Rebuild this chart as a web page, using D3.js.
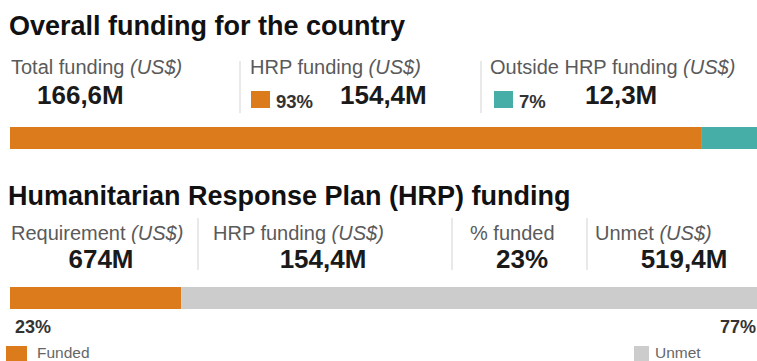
<!DOCTYPE html>
<html>
<head>
<meta charset="utf-8">
<script src="https://cdnjs.cloudflare.com/ajax/libs/d3/7.8.5/d3.min.js"></script>
<style>
  body { margin: 0; background: #fff; }
  text { font-family: "Liberation Sans", Arial, sans-serif; }
</style>
</head>
<body>
<div id="chart"></div>
<script>
// overall funding for the country (US$ millions)
var overallKeys = ["HRP funding", "Outside HRP funding"];
var overallValues = [154.4, 12.3];
var overallPct = ["93%", "7%"];
var overallLabels = ["154,4M", "12,3M"];
var totalLabel = "166,6M";

// HRP funding (US$ millions)
var hrpKeys = ["Funded", "Unmet"];
var hrpValues = [154.4, 519.4];
var hrpPct = ["23%", "77%"];
var hrpStats = ["Requirement", "HRP funding", "% funded", "Unmet"];
var hrpStatValues = ["674M", "154,4M", "23%", "519,4M"];

var width = 757, height = 361;
var colors = {"HRP funding": "#db7b1b", "Outside HRP funding": "#46aea7", "Funded": "#db7b1b", "Unmet": "#cccccc"};

var svg = d3.select("#chart").append("svg")
  .attr("width", width)
  .attr("height", height);

function label(g, x, y, main, italic) {
  var t = g.append("text")
    .attr("x", x).attr("y", y)
    .style("font-size", "20px")
    .style("fill", "#5a5a5a");
  t.append("tspan").text(main);
  if (italic) t.append("tspan").style("font-style", "italic").text(" " + italic);
  return t;
}

function big(g, x, y, txt, anchor) {
  return g.append("text")
    .attr("x", x).attr("y", y)
    .attr("text-anchor", anchor || "start")
    .style("font-size", "26px")
    .style("font-weight", "bold")
    .style("fill", "#1a1a1a")
    .text(txt);
}

function sep(g, x, y1, y2) {
  g.append("line")
    .attr("x1", x).attr("x2", x)
    .attr("y1", y1).attr("y2", y2)
    .style("stroke", "#e2e2e2")
    .style("stroke-width", 1.5);
}

// ---- section 1
var s1 = svg.append("g");
s1.append("text")
  .attr("x", 9).attr("y", 35)
  .style("font-size", "27px").style("font-weight", "bold").style("fill", "#111")
  .text("Overall funding for the country");

label(s1, 11, 74, "Total funding", "(US$)");
big(s1, 37, 104, totalLabel);
sep(s1, 240, 61, 113);
label(s1, 250, 74, "HRP funding", "(US$)");
sep(s1, 481, 61, 113);
label(s1, 490, 74, "Outside HRP funding", "(US$)");

var chipX = [251, 494], pctX = [276, 519], valX = [340, 585];
overallKeys.forEach(function(k, i) {
  s1.append("rect")
    .attr("x", chipX[i]).attr("y", 91)
    .attr("width", 19).attr("height", 17)
    .style("fill", colors[k]);
  s1.append("text")
    .attr("x", pctX[i]).attr("y", 108)
    .style("font-size", "18.5px").style("font-weight", "bold").style("fill", "#333")
    .text(overallPct[i]);
  big(s1, valX[i], 104, overallLabels[i]);
});

var x1 = d3.scaleLinear()
  .domain([0, d3.sum(overallValues)])
  .range([10, 757]);
var stack1 = d3.cumsum(overallValues);
s1.selectAll("rect.bar")
  .data(overallValues)
  .join("rect")
  .attr("class", "bar")
  .attr("x", function(d, i) { return x1(stack1[i] - d); })
  .attr("width", function(d, i) { return x1(stack1[i]) - x1(stack1[i] - d); })
  .attr("y", 127).attr("height", 22)
  .style("fill", function(d, i) { return colors[overallKeys[i]]; });

// ---- section 2
var s2 = svg.append("g");
s2.append("text")
  .attr("x", 8).attr("y", 205)
  .style("font-size", "27px").style("font-weight", "bold").style("fill", "#111")
  .text("Humanitarian Response Plan (HRP) funding");

var statLabelX = [11, 213, 470, 595];
var statValX = [101, 323, 522, 684];
var sepX = [198, 452, 587];
hrpStats.forEach(function(s, i) {
  label(s2, statLabelX[i], 240, s, s == "% funded" ? null : "(US$)");
  big(s2, statValX[i], 268, hrpStatValues[i], "middle");
});
sepX.forEach(function(x) { sep(s2, x, 218, 270); });

var x2 = d3.scaleLinear()
  .domain([0, d3.sum(hrpValues)])
  .range([10, 757]);
var stack2 = d3.cumsum(hrpValues);
s2.selectAll("rect.bar")
  .data(hrpValues)
  .join("rect")
  .attr("class", "bar")
  .attr("x", function(d, i) { return x2(stack2[i] - d); })
  .attr("width", function(d, i) { return x2(stack2[i]) - x2(stack2[i] - d); })
  .attr("y", 287).attr("height", 22)
  .style("fill", function(d, i) { return colors[hrpKeys[i]]; });

// percent labels under the bar
s2.append("text")
  .attr("x", 15).attr("y", 333)
  .style("font-size", "18px").style("font-weight", "bold").style("fill", "#333")
  .text(hrpPct[0]);
s2.append("text")
  .attr("x", 756).attr("y", 333)
  .attr("text-anchor", "end")
  .style("font-size", "18px").style("font-weight", "bold").style("fill", "#333")
  .text(hrpPct[1]);

// legend
var legX = [6, 634], legW = [21, 15], legTx = [37, 655];
hrpKeys.forEach(function(k, i) {
  s2.append("rect")
    .attr("x", legX[i]).attr("y", 346)
    .attr("width", legW[i]).attr("height", 16)
    .style("fill", colors[k]);
  s2.append("text")
    .attr("x", legTx[i]).attr("y", 358)
    .style("font-size", "15.5px").style("fill", "#666")
    .text(k);
});
</script>
</body>
</html>
